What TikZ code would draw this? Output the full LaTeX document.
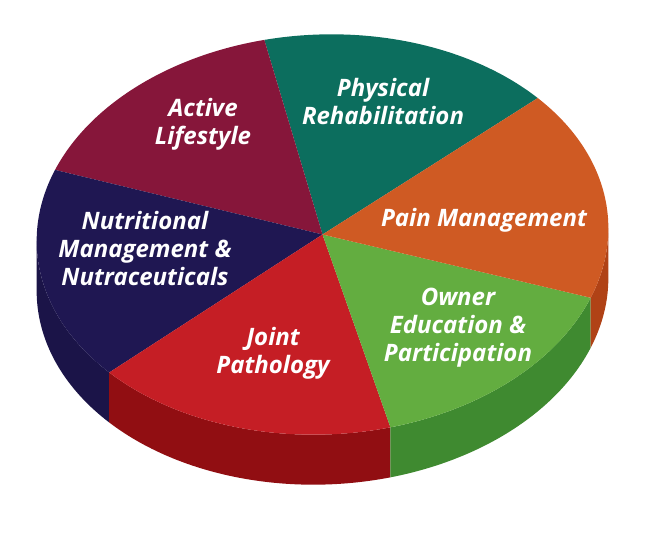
\documentclass[tikz,border=0pt]{standalone}
\usepackage{fontspec}
\setmainfont{Open Sans}
\definecolor{maroon}{RGB}{134,22,58}
\definecolor{teal}{RGB}{12,110,94}
\definecolor{orng}{RGB}{207,90,35}
\definecolor{orngside}{RGB}{176,66,22}
\definecolor{grn}{RGB}{99,173,64}
\definecolor{grnside}{RGB}{63,138,48}
\definecolor{rd}{RGB}{197,30,37}
\definecolor{rdside}{RGB}{145,14,18}
\definecolor{navy}{RGB}{31,23,82}
\definecolor{navyside}{RGB}{27,20,72}
\def\cx{322.5}\def\cy{311.5}\def\ra{286}\def\rb{200}\def\ph{2.5}\def\thk{50}
\tikzset{
  pm/.style n args={3}{insert path={plot[domain=#1:#2,samples=60,variable=\t]
    ({\cx+\ra*cos(\t)*cos(\ph)-\rb*sin(\t)*sin(\ph)},{\cy-#3+\ra*cos(\t)*sin(\ph)+\rb*sin(\t)*cos(\ph)})}},
  pl/.style n args={3}{insert path={-- plot[domain=#1:#2,samples=60,variable=\t]
    ({\cx+\ra*cos(\t)*cos(\ph)-\rb*sin(\t)*sin(\ph)},{\cy-#3+\ra*cos(\t)*sin(\ph)+\rb*sin(\t)*cos(\ph)})}},
  lbl/.style={text=white,align=center,inner sep=0pt,font=\bfseries\itshape\fontsize{24}{28}\selectfont}
}
\begin{document}
\begin{tikzpicture}[x=1pt,y=1pt]
\useasboundingbox (0,0) rectangle (652,546);
\coordinate (C) at (\cx,\cy);
% sides
\fill[navyside] [pm={178.25}{220}{0}] [pl={220}{178.25}{\thk}] -- cycle;
\fill[rdside] [pm={220}{282}{0}] [pl={282}{220}{\thk}] -- cycle;
\fill[grnside] [pm={282}{338}{0}] [pl={338}{282}{\thk}] -- cycle;
\fill[orngside] [pm={338}{358.25}{0}] [pl={358.25}{338}{\thk}] -- cycle;
% top
\fill[teal] (C) [pl={39.4}{100}{0}] -- cycle;
\fill[maroon] (C) [pl={100}{157.6}{0}] -- cycle;
\fill[navy] (C) [pl={157.6}{220}{0}] -- cycle;
\fill[rd] (C) [pl={220}{282}{0}] -- cycle;
\fill[grn] (C) [pl={282}{338}{0}] -- cycle;
\fill[orng] (C) [pl={-22}{39.4}{0}] -- cycle;
% labels
\node[lbl] (al) at (203,422) {Active\\Lifestyle};
\node[lbl] (pr) at (383,444) {Physical\\Rehabilitation};
\node[lbl] (pm) at (484,326) {Pain Management};
\node[lbl] (oe) at (458,218) {Owner\\Education \&\\Participation};
\node[lbl] (jp) at (273,193) {Joint\\Pathology};
\node[lbl] (nm) at (145,297) {Nutritional\\Management \&\\Nutraceuticals};
\end{tikzpicture}
\end{document}
